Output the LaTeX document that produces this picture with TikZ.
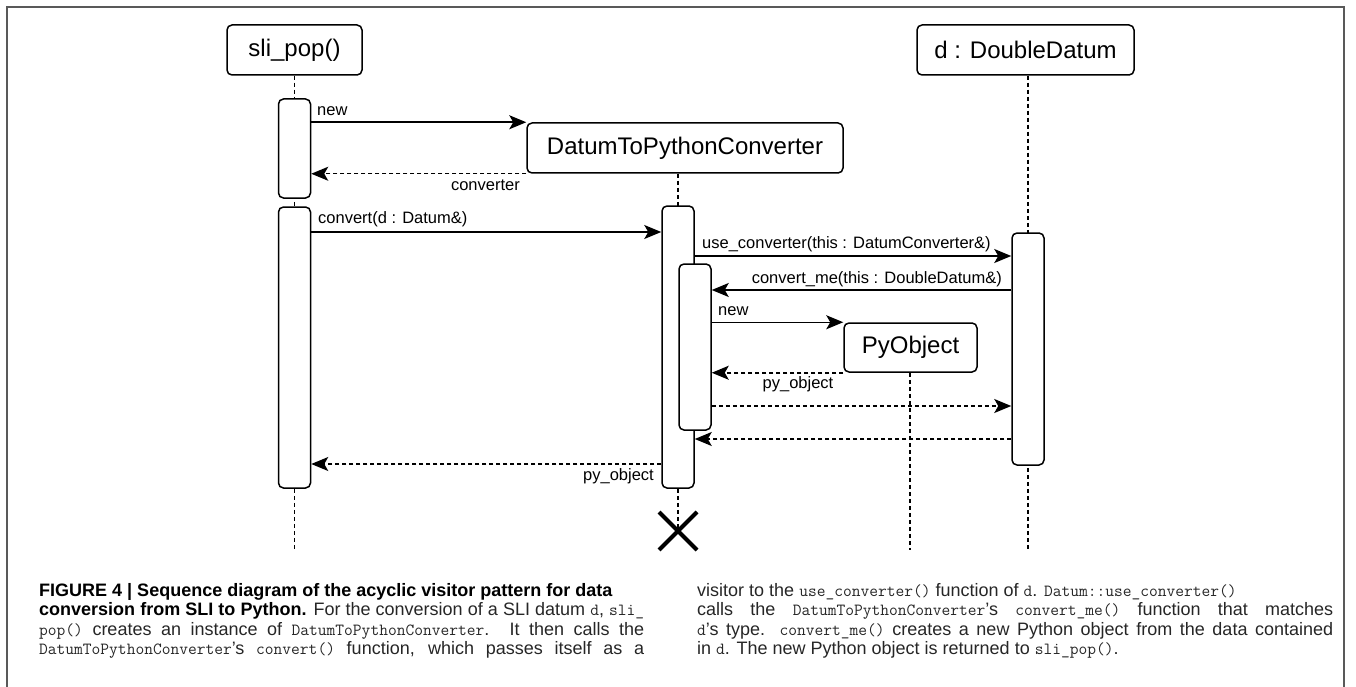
\documentclass[tikz,border=0pt]{standalone}
\usepackage{fontspec}
\setmainfont{Liberation Sans}
\usepackage{tikz}
\usetikzlibrary{arrows.meta}
\usetikzlibrary{shapes.misc}

\newcommand{\code}[1]{{\ttfamily\fontsize{17}{19}\selectfont #1}}
\newcommand{\jline}[2]{\makebox[#1][s]{#2}}

\tikzset{
    head/.style={draw,line width=1.5pt,rounded corners=5pt,fill=white,inner sep=0pt,
        minimum height=50pt,font=\fontsize{24}{28}\selectfont},
    bar/.style={draw,line width=1.5pt,rounded corners=5pt,fill=white,inner sep=0pt,minimum width=32pt},
    life/.style={line width=1.5pt,dash pattern=on 4pt off 3pt},
    msg/.style={->,line width=1.5pt},
    ret/.style={->,line width=1.5pt,dash pattern=on 4pt off 3pt},
    lbl/.style={inner sep=0pt,font=\fontsize{16.5}{19}\selectfont},
    capline/.style={anchor=base west,inner sep=0pt,text=black!85,font=\fontsize{18}{19}\selectfont}
}

\begin{document}
\begin{tikzpicture}[x=1pt,y=-1pt,>={Stealth[length=17pt,width=14pt,inset=4pt]}]
            \useasboundingbox (0,0) rectangle (1356,687);
            \draw[black!65,line width=1.2pt] (7,687) -- (7,7) -- (1344,7) -- (1344,687);
            % lifeline ends and message rows
            \coordinate (popend) at (294.5,550);
            \coordinate (ddend) at (1028,550);
            \coordinate (pyoend) at (910,550);
            \coordinate (r3) at (0,232);
            \coordinate (r4) at (0,256);
            \coordinate (r5) at (0,290);
            \coordinate (r8) at (0,406);
            \coordinate (r9) at (0,439);
            \coordinate (r10) at (0,464);
            % heads
            \node[head,minimum width=135pt] (pop) at (294.5,50) {sli\_pop()};
            \node[head,minimum width=316pt] (dtpc) at (685,148) {DatumToPythonConverter};
            \node[head,minimum width=217pt] (dd) at (1025.5,50) {d : DoubleDatum};
            \node[head,minimum width=133pt,minimum height=49pt] (pyo) at (910.5,347.5) {PyObject};
            \coordinate (kill) at (678,531);
            % lifelines
            \draw[life] (pop.south) -- (popend);
            \draw[life] (dtpc.south -| kill) -- (kill);
            \draw[life] (dd.south -| ddend) -- (ddend);
            \draw[life] (pyo.south -| pyoend) -- (pyoend);
            % activation bars
            \node[bar,minimum height=99pt] (pop1) at (294.5,148.5) {};
            \node[bar,minimum height=281pt] (pop2) at (294.5,347.5) {};
            \node[bar,minimum height=282pt] (dtbar) at (678,347) {};
            \node[bar,minimum height=166pt] (nest) at (695,347) {};
            \node[bar,minimum height=232pt] (ddbar) at (1028,349) {};
            \node[draw,cross out,line width=4pt,minimum size=34pt] (cross) at (kill) {};
            % messages
            \draw[msg] (pop1.east |- dtpc.north west) -- (dtpc.north west);
            \node[lbl,anchor=west] (lnew) at (317,111) {new};
            \draw[ret] (dtpc.south west) -- (pop1.east |- dtpc.south west);
            \node[lbl,anchor=east] (lconv) at (520,185) {converter};
            \draw[msg] (pop2.east |- r3) -- (dtbar.west |- r3);
            \node[lbl,anchor=west] (lcall) at (318,219) {convert(d : Datum\&)};
            \draw[msg] (dtbar.east |- r4) -- (ddbar.west |- r4);
            \node[lbl,anchor=west] (luse) at (702,244) {use\_converter(this : DatumConverter\&)};
            \draw[msg] (ddbar.west |- r5) -- (nest.east |- r5);
            \node[lbl,anchor=east] (lme) at (1002,279) {convert\_me(this : DoubleDatum\&)};
            \draw[msg] (nest.east |- pyo.north west) -- (pyo.north west);
            \node[lbl,anchor=west] (lnew2) at (718,311) {new};
            \draw[ret] (pyo.south west) -- (nest.east |- pyo.south west);
            \node[lbl] (lpy) at (798,384) {py\_object};
            \draw[ret] (nest.east |- r8) -- (ddbar.west |- r8);
            \draw[ret] (ddbar.west |- r9) -- (dtbar.east |- r9);
            \draw[ret] (dtbar.west |- r10) -- (pop2.east |- r10);
            \node[lbl,anchor=east] (lpy2) at (654,476) {py\_object};
            % caption
            \node[capline] (c1) at (39,596.5) {\textbf{\color{black}FIGURE 4 | Sequence diagram of the acyclic visitor pattern for data}};
            \node[capline] (c2) at (39,615.8) {\jline{605pt}{\textbf{\color{black}conversion from SLI to Python.} For the conversion of a SLI datum \code{d}, \code{sli\_}}};
            \node[capline] (c3) at (39,635.1) {\jline{605pt}{\code{pop()} creates an instance of \code{DatumToPythonConverter}. It then calls the}};
            \node[capline] (c4) at (39,654.4) {\jline{605pt}{\code{DatumToPythonConverter}’s \code{convert()} function, which passes itself as a}};
            \node[capline] (c5) at (697,596.5) {visitor to the \code{use\_converter()} function of \code{d}. \code{Datum::use\_converter()}};
            \node[capline] (c6) at (697,615.8) {\jline{636pt}{calls the \code{DatumToPythonConverter}’s \code{convert\_me()} function that matches}};
            \node[capline] (c7) at (697,635.1) {\jline{636pt}{\code{d}’s type. \code{convert\_me()} creates a new Python object from the data contained}};
            \node[capline] (c8) at (697,654.4) {in \code{d}. The new Python object is returned to \code{sli\_pop()}.};
        \end{tikzpicture}
\end{document}
